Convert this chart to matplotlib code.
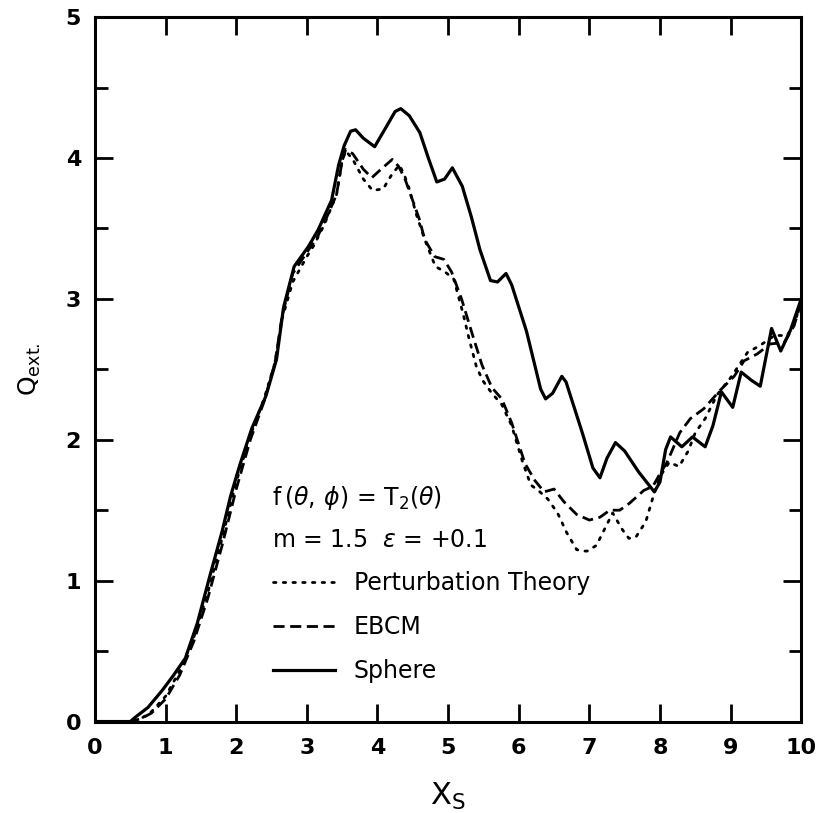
import matplotlib
matplotlib.use("Agg")
import matplotlib.pyplot as plt
from matplotlib.ticker import MultipleLocator

plt.rcParams["font.family"] = ["DejaVu Sans"]
plt.rcParams["mathtext.fontset"] = "dejavusans"

# extinction efficiency vs size parameter
sphere_x = [0.0, 0.5, 0.57, 0.75, 0.95, 1.1, 1.28, 1.45, 1.63, 1.8, 1.92, 2.05,
            2.22, 2.42, 2.57, 2.67, 2.82, 3.02, 3.16, 3.35, 3.45, 3.53, 3.62,
            3.69, 3.8, 3.96, 4.1, 4.25, 4.33, 4.45, 4.6, 4.72, 4.84, 4.95,
            5.06, 5.2, 5.33, 5.45, 5.6, 5.7, 5.82, 5.9, 6.11, 6.31, 6.38, 6.48,
            6.61, 6.67, 6.9, 7.05, 7.15, 7.25, 7.37, 7.5, 7.7, 7.92, 8.0, 8.08,
            8.15, 8.31, 8.46, 8.64, 8.75, 8.87, 9.03, 9.15, 9.3, 9.42, 9.58,
            9.71, 9.85, 10.0]
sphere_q = [0.0, 0.0, 0.03, 0.1, 0.22, 0.32, 0.45, 0.7, 1.04, 1.35, 1.6, 1.82,
            2.08, 2.31, 2.57, 2.94, 3.23, 3.37, 3.49, 3.7, 3.95, 4.09, 4.19,
            4.2, 4.14, 4.08, 4.2, 4.33, 4.35, 4.3, 4.18, 4.0, 3.83, 3.85,
            3.93, 3.8, 3.58, 3.35, 3.13, 3.12, 3.18, 3.1, 2.77, 2.36, 2.29, 2.33,
            2.45, 2.41, 2.05, 1.8, 1.73, 1.87, 1.98, 1.92, 1.77, 1.63, 1.7, 1.93,
            2.02, 1.95, 2.02, 1.95, 2.1, 2.34, 2.23, 2.48, 2.42, 2.38, 2.79,
            2.63, 2.78, 3.0]

ebcm_x = [0.0, 0.5, 0.65, 0.8, 1.0, 1.2, 1.4, 1.6, 1.8, 2.0, 2.2, 2.4, 2.55,
          2.65, 2.8, 3.0, 3.15, 3.3, 3.42, 3.5, 3.55, 3.65, 3.8, 3.92, 4.05,
          4.21, 4.3, 4.39, 4.49, 4.59, 4.67, 4.81, 4.94, 5.05, 5.19, 5.33,
          5.48, 5.62, 5.76, 5.9, 6.09, 6.23, 6.36, 6.5, 6.64, 6.82, 7.0, 7.15,
          7.29, 7.43, 7.57, 7.77, 7.9, 7.99, 8.1, 8.28, 8.43, 8.62, 8.85, 9.05,
          9.19, 9.38, 9.56, 9.76, 9.9, 10.0]
ebcm_q = [0.0, 0.0, 0.02, 0.06, 0.16, 0.33, 0.57, 0.88, 1.25, 1.65, 2.0, 2.28,
          2.55, 2.88, 3.18, 3.33, 3.44, 3.6, 3.74, 3.98, 4.06, 4.03, 3.92,
          3.86, 3.92, 3.99, 3.94, 3.85, 3.71, 3.57, 3.42, 3.3, 3.28, 3.19, 3.0,
          2.77, 2.53, 2.37, 2.29, 2.12, 1.83, 1.71, 1.63, 1.65, 1.56, 1.47,
          1.43, 1.45, 1.5, 1.5, 1.55, 1.64, 1.67, 1.75, 1.84, 2.05, 2.15, 2.22,
          2.35, 2.45, 2.56, 2.61, 2.68, 2.69, 2.81, 2.98]

pert_x = [0.0, 0.5, 0.65, 0.8, 1.0, 1.2, 1.4, 1.6, 1.8, 2.0, 2.2, 2.4, 2.55,
          2.65, 2.8, 3.0, 3.1, 3.25, 3.42, 3.5, 3.55, 3.65, 3.8, 3.93, 4.08,
          4.2, 4.31, 4.38, 4.45, 4.55, 4.67, 4.82, 4.96, 5.08, 5.21, 5.3, 5.4,
          5.49, 5.62, 5.76, 5.9, 6.05, 6.17, 6.3, 6.41, 6.55, 6.68, 6.82, 6.91,
          6.97, 7.1, 7.24, 7.33, 7.47, 7.56, 7.66, 7.8, 7.9, 7.99, 8.13, 8.27,
          8.4, 8.5, 8.64, 8.81, 9.0, 9.24, 9.42, 9.62, 9.8, 9.9, 10.0]
pert_q = [0.0, 0.0, 0.02, 0.07, 0.18, 0.36, 0.6, 0.92, 1.3, 1.7, 2.03, 2.3,
          2.55, 2.86, 3.12, 3.3, 3.38, 3.53, 3.74, 3.98, 4.05, 3.99, 3.85,
          3.77, 3.78, 3.88, 3.95, 3.88, 3.78, 3.6, 3.42, 3.23, 3.19, 3.14, 2.9,
          2.71, 2.52, 2.42, 2.33, 2.25, 2.1, 1.85, 1.68, 1.63, 1.58, 1.48, 1.34,
          1.22, 1.21, 1.21, 1.25, 1.39, 1.48, 1.36, 1.3, 1.31, 1.42, 1.59, 1.73,
          1.84, 1.81, 1.92, 2.05, 2.15, 2.32, 2.44, 2.62, 2.67, 2.74, 2.74,
          2.82, 2.98]

x_ticks = list(range(0, 11))
y_ticks = list(range(0, 6))

fig = plt.figure(figsize=(8.26, 8.13), dpi=100)
ax = fig.add_axes([0.115, 0.1125, 0.855, 0.8665])

lw = 2.0
ax.plot(pert_x, pert_q, color="black", lw=lw, linestyle=(0, (0.9, 2.6)),
        dash_capstyle="round", label="Perturbation Theory")
ax.plot(ebcm_x, ebcm_q, color="black", lw=lw, linestyle=(0, (4, 2)),
        label="EBCM")
ax.plot(sphere_x, sphere_q, color="black", lw=lw + 0.3, label="Sphere")

ax.set_xlim(0, 10)
ax.set_ylim(0, 5)
ax.set_xticks(x_ticks)
ax.set_yticks(y_ticks)
ax.yaxis.set_minor_locator(MultipleLocator(0.5))

for s in ax.spines.values():
    s.set_linewidth(2.2)

ax.tick_params(axis="x", which="major", direction="in", top=True,
               length=13, width=2, labelsize=16, pad=12)
ax.tick_params(axis="y", which="major", direction="in", right=True,
               length=13, width=2, labelsize=16, pad=10)
ax.tick_params(axis="y", which="minor", direction="in", right=True,
               length=9, width=2)
for lab in ax.get_xticklabels() + ax.get_yticklabels():
    lab.set_fontweight("bold")

ax.set_xlabel(r"X$_{\rm S}$", fontsize=22, labelpad=16)
ax.set_ylabel(r"Q$_{\rm ext.}$", fontsize=18, labelpad=16)

ax.text(0.25, 0.318, r"f$\,(\theta,\,\phi)$ = T$_2(\theta)$",
        transform=ax.transAxes, fontsize=17, va="center")
ax.text(0.25, 0.258, r"m = 1.5  $\epsilon$ = +0.1",
        transform=ax.transAxes, fontsize=17, va="center")

ax.legend(loc="upper left", bbox_to_anchor=(0.2527, 0.214), frameon=False,
          fontsize=17, handlelength=2.6, handletextpad=0.8, labelspacing=0.85,
          borderpad=0, borderaxespad=0)

fig.savefig("out.png", dpi=100)
